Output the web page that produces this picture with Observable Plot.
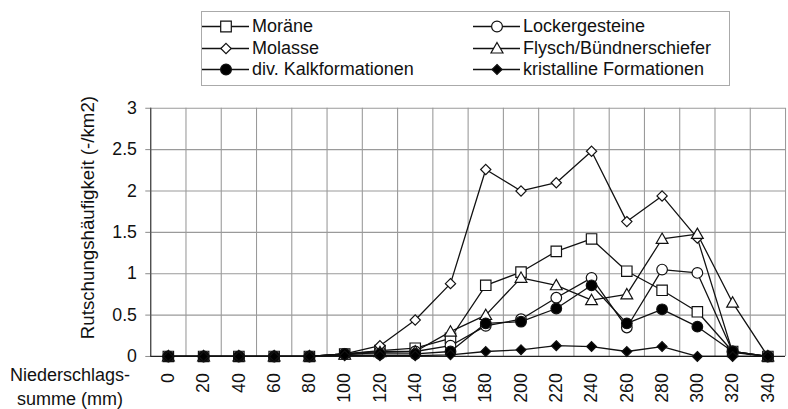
<!DOCTYPE html>
<html><head><meta charset="utf-8">
<script src="https://cdn.jsdelivr.net/npm/d3@7"></script>
<script src="https://cdn.jsdelivr.net/npm/@observablehq/plot@0.6"></script>
<style>
body{margin:0;width:788px;height:409px;overflow:hidden;background:#fff;font-family:"Liberation Sans",Arial,sans-serif;}
#wrap{position:relative;width:788px;height:409px;overflow:hidden;}
#legend{position:absolute;left:201px;top:11px;width:529px;height:75px;border:1px solid #aaa;box-sizing:border-box;}
.item{position:absolute;height:20px;display:flex;align-items:center;font-size:18px;color:#111;white-space:nowrap;}
.item svg{margin-right:3px;}
#chart{position:absolute;left:0;top:92px;}
#xl{position:absolute;left:0;top:363px;width:140px;text-align:center;font-size:18px;line-height:24px;color:#111;}
</style></head><body>
<div id="wrap">
  <div id="legend"></div>
  <div id="chart"></div>
  <div id="xl">Niederschlags-<br>summe (mm)</div>
</div>
<script>
const categories = [0,20,40,60,80,100,120,140,160,180,200,220,240,260,280,300,320,340];
const moraene        = [0,0,0,0,0,0.03,0.07,0.10,0.22,0.86,1.02,1.27,1.42,1.03,0.80,0.54,0.06,0];
const lockergesteine = [0,0,0,0,0,0.03,0.06,0.06,0.13,0.37,0.45,0.71,0.95,0.35,1.05,1.01,0.06,0];
const molasse        = [0,0,0,0,0,0.03,0.13,0.44,0.88,2.26,2.00,2.10,2.48,1.63,1.94,1.43,0.05,0];
const flysch         = [0,0,0,0,0,0.02,0.05,0.06,0.30,0.50,0.95,0.86,0.68,0.75,1.42,1.48,0.65,0];
const kalk           = [0,0,0,0,0,0.03,0.03,0.03,0.06,0.40,0.42,0.58,0.86,0.40,0.57,0.36,0.06,0];
const kristallin     = [0,0,0,0,0,0.01,0.01,0.01,0.02,0.06,0.08,0.13,0.12,0.06,0.12,0,0,0];
const yTicks = [0,0.5,1,1.5,2,2.5,3];
const yTitle = "Rutschungshäufigkeit (-/km2)";
const seriesNames = ["Moräne","Lockergesteine","Molasse","Flysch/Bündnerschiefer","div. Kalkformationen","kristalline Formationen"];
const seriesValues = [moraene, lockergesteine, molasse, flysch, kalk, kristallin];

// marker styles
const shape = (kind) => ({
  draw(ctx, size) {
    const h = Math.sqrt(size / Math.PI);
    if (kind === "square") { ctx.rect(-h, -h, 2*h, 2*h); }
    else if (kind === "diamond") { ctx.moveTo(0,-h); ctx.lineTo(h,0); ctx.lineTo(0,h); ctx.lineTo(-h,0); ctx.closePath(); }
    else if (kind === "triangle") { ctx.moveTo(0,-h); ctx.lineTo(h*1.0,h*0.75); ctx.lineTo(-h*1.0,h*0.75); ctx.closePath(); }
    else { ctx.moveTo(h,0); ctx.arc(0,0,h,0,2*Math.PI); }
  }
});
const styles = [
  {kind:"square", fill:"white", r:5.3},
  {kind:"circle", fill:"white", r:5.4},
  {kind:"diamond", fill:"white", r:5.2},
  {kind:"triangle", fill:"white", r:6},
  {kind:"circle", fill:"black", r:5.4},
  {kind:"diamond", fill:"black", r:5}
];

const data = [];
seriesNames.forEach((s, i) => categories.forEach((c, j) => data.push({series: s, idx: i, x: c, y: seriesValues[i][j]})));
const boundaries = categories.map(c => c - 10).concat([categories[categories.length-1] + 10]);

const marks = [
  Plot.ruleX(boundaries, {stroke: "#9a9a9a", strokeWidth: 1.1}),
  Plot.ruleY(yTicks, {stroke: "#9a9a9a", strokeWidth: 1.1}),
  Plot.ruleX([boundaries[0]], {stroke: "#444", strokeWidth: 1.2}),
  Plot.axisY({ticks: yTicks, tickFormat: d => String(d), tickSize: 5, tickPadding: 9, stroke: "#888", label: null}),
  Plot.text([yTitle], {text: d => d, frameAnchor: "left", rotate: -90, dx: -64, dy: -15, fontSize: 19,
    textAnchor: "middle", lineAnchor: "middle", fill: "#111"}),
  Plot.axisX({ticks: categories, tickFormat: d => String(d), tickSize: 0, tickPadding: 17, tickRotate: -90, label: null}),
  Plot.ruleY([0], {stroke: "#222", strokeWidth: 1.3}),
  Plot.line(data, {x: "x", y: "y", z: "series", stroke: "#111", strokeWidth: 1.3})
];
styles.forEach((st, i) => {
  marks.push(Plot.dot(data.filter(d => d.idx === i), {x: "x", y: "y", symbol: shape(st.kind), r: st.r,
    fill: st.fill, stroke: "#111", strokeWidth: 1.2}));
});

const chart = Plot.plot({
  width: 800, height: 317,
  marginLeft: 152.5, marginRight: 3, marginTop: 16, marginBottom: 49,
  x: {type: "linear", domain: [boundaries[0], boundaries[boundaries.length-1]]},
  y: {domain: [0, 3]},
  style: {fontFamily: "'Liberation Sans', Arial, sans-serif", fontSize: "18px", color: "#111", background: "white", overflow: "visible"},
  marks
});
document.getElementById("chart").appendChild(chart);

// legend
const legend = document.getElementById("legend");
const pos = [[0,0],[1,0],[0,1],[1,1],[0,2],[1,2]];
const colX = [0, 271];
const rowY = [4, 26, 47];
seriesNames.forEach((s, i) => {
  const st = styles[i];
  const item = document.createElement("div");
  item.className = "item";
  item.style.left = colX[pos[i][0]] + "px";
  item.style.top = rowY[pos[i][1]] + "px";
  const sym = Plot.plot({
    width: 47, height: 20, margin: 0,
    x: {domain: [0, 1]}, y: {domain: [0, 1]}, axis: null,
    marks: [
      Plot.ruleY([0.5], {x1: 0, x2: 1, stroke: "#111", strokeWidth: 1.3}),
      Plot.dot([{x: 0.5, y: 0.5}], {x: "x", y: "y", symbol: shape(st.kind), r: st.r, fill: st.fill, stroke: "#111", strokeWidth: 1.2})
    ]
  });
  item.appendChild(sym);
  const t = document.createElement("span");
  t.textContent = s;
  item.appendChild(t);
  legend.appendChild(item);
});
</script>
</body></html>
